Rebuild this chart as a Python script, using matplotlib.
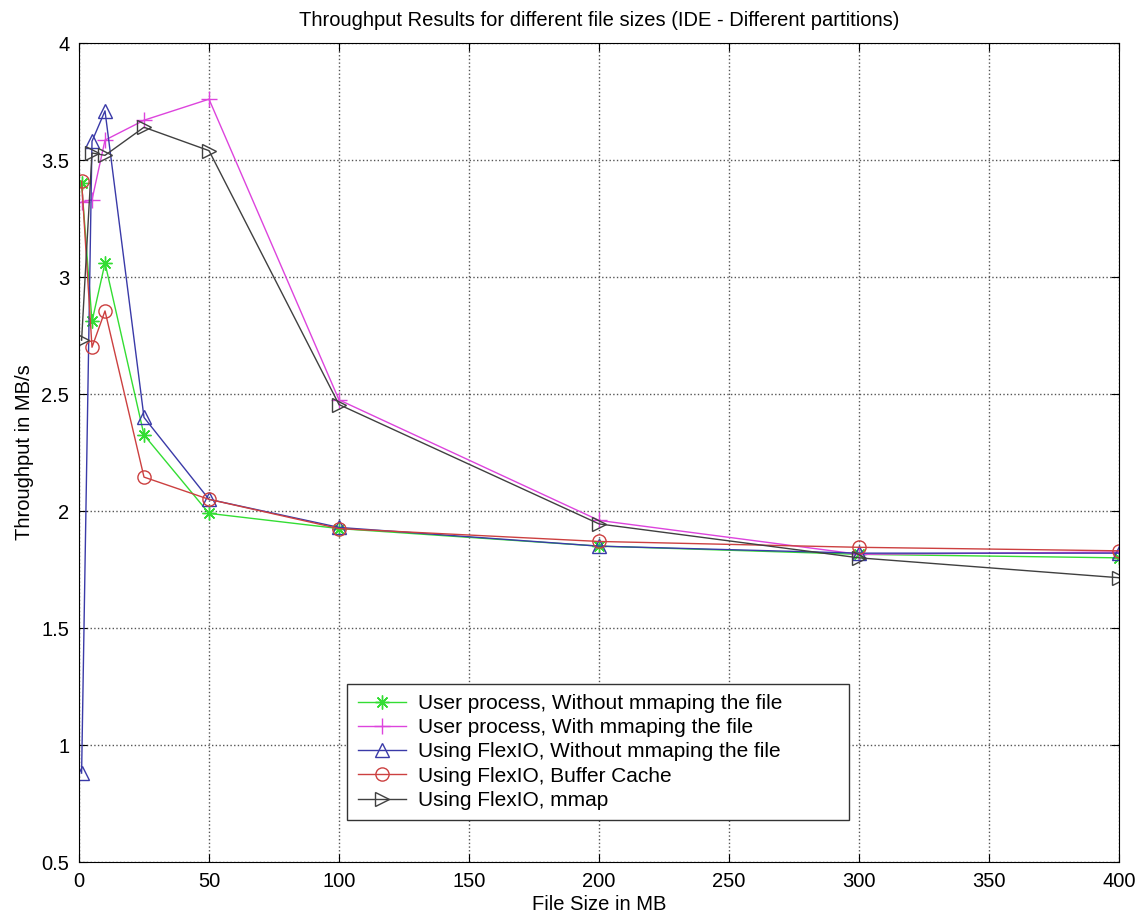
import matplotlib
matplotlib.use("Agg")
import matplotlib.pyplot as plt

plt.rcParams['font.family'] = ['Liberation Sans', 'DejaVu Sans']

# file sizes in MB
sizes = [1, 5, 10, 25, 50, 100, 200, 300, 400]

user_nommap = [3.40, 2.81, 3.06, 2.325, 1.99, 1.925, 1.85, 1.815, 1.80]
user_mmap = [3.32, 3.33, 3.585, 3.67, 3.76, 2.475, 1.96, 1.815, 1.825]
flexio_nommap = [0.88, 3.58, 3.71, 2.40, 2.05, 1.93, 1.85, 1.82, 1.82]
flexio_cache = [3.41, 2.70, 2.855, 2.145, 2.05, 1.925, 1.87, 1.845, 1.83]
flexio_mmap = [2.73, 3.53, 3.52, 3.64, 3.54, 2.455, 1.945, 1.80, 1.715]

labels = ["User process, Without mmaping the file",
          "User process, With mmaping the file",
          "Using FlexIO, Without mmaping the file",
          "Using FlexIO, Buffer Cache",
          "Using FlexIO, mmap"]

xticks = [0, 50, 100, 150, 200, 250, 300, 350, 400]
yticks = [0.5, 1, 1.5, 2, 2.5, 3, 3.5, 4]

fig = plt.figure(figsize=(11.4, 9.21), dpi=100)
ax = fig.add_axes([0.0693, 0.064, 0.9123, 0.8893])

ax.plot(sizes, user_nommap, color='#33dd33', marker=(8, 2, 0), ms=10,
        lw=1, label=labels[0])
ax.plot(sizes, user_mmap, color='#dd44dd', marker='+', ms=12, mew=1,
        lw=1, label=labels[1])
ax.plot(sizes, flexio_nommap, color='#3a3aa8', marker='^', ms=9.5, mfc='none',
        lw=1, label=labels[2])
ax.plot(sizes, flexio_cache, color='#cc4040', marker='o', ms=9.5, mfc='none',
        lw=1, label=labels[3])
ax.plot(sizes, flexio_mmap, color='#404040', marker='>', ms=9.5, mfc='none',
        lw=1, label=labels[4])

ax.set_xlim(0, 400)
ax.set_ylim(0.5, 4)
ax.set_xticks(xticks)
ax.set_yticks(yticks)
ax.set_yticklabels(['0.5', '1', '1.5', '2', '2.5', '3', '3.5', '4'])
ax.tick_params(direction='in', top=True, right=True, labelsize=14.5,
               length=6, pad=7)
ax.grid(True, color='#555555', linestyle=':', linewidth=1)

ax.set_title("Throughput Results for different file sizes (IDE - Different partitions)",
             fontsize=14.5, pad=12)
ax.set_xlabel("File Size in MB", fontsize=14.5, labelpad=3)
ax.set_ylabel("Throughput in MB/s", fontsize=14.5, labelpad=5)

leg = ax.legend(loc='lower left', bbox_to_anchor=(0.258, 0.051, 0.482, 0.16),
                mode='expand', borderaxespad=0, fontsize=15,
                fancybox=False, edgecolor='#333333', framealpha=1,
                handlelength=2.3, borderpad=0.5, labelspacing=0.25,
                handletextpad=0.6)
leg.get_frame().set_linewidth(1)

fig.savefig("out.png", dpi=100)
